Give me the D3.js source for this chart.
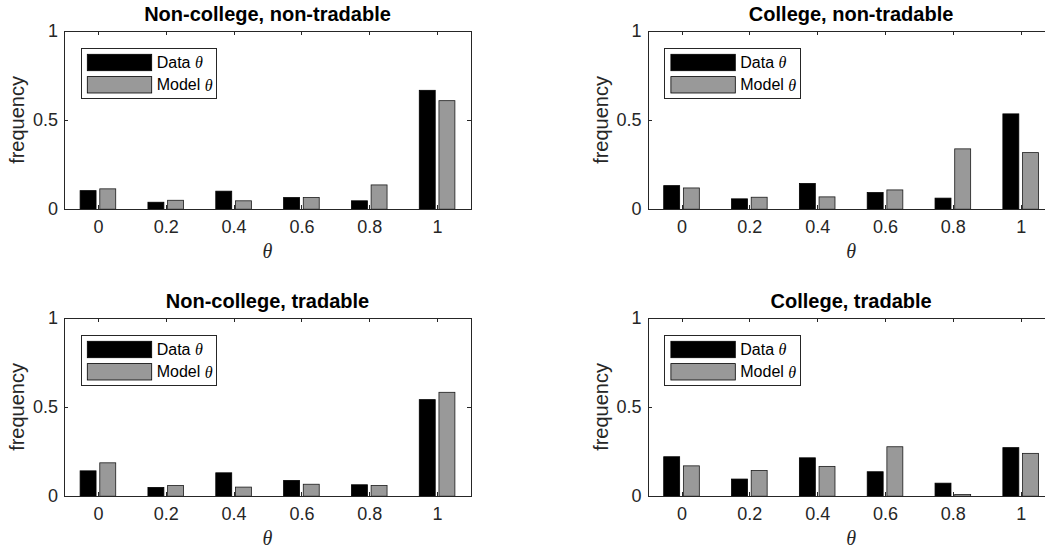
<html>
<style>
    body { margin: 0; background: #fff; }
    svg { display: block; font-family: "Liberation Sans", Arial, sans-serif; }
    .axis path, .axis line { fill: none; stroke: #262626; shape-rendering: crispEdges; }
    .axis text { fill: #262626; font-size: 18px; }
</style>
<body>
<script src="https://d3js.org/d3.v7.min.js"></script>
<script>
// values
const thetas = [0, 0.2, 0.4, 0.6, 0.8, 1];
const xTickLabels = ["0", "0.2", "0.4", "0.6", "0.8", "1"];
const yTicks = [0, 0.5, 1];
const yTickLabels = ["0", "0.5", "1"];
const panelTitles = ["Non-college, non-tradable", "College, non-tradable",
                     "Non-college, tradable", "College, tradable"];
const seriesNames = ["Data", "Model"];

const dataNcNt  = [0.104, 0.039, 0.101, 0.065, 0.047, 0.666];
const modelNcNt = [0.114, 0.050, 0.047, 0.065, 0.136, 0.608];
const dataCNt   = [0.132, 0.058, 0.144, 0.093, 0.062, 0.534];
const modelCNt  = [0.119, 0.067, 0.069, 0.108, 0.338, 0.317];
const dataNcT   = [0.142, 0.049, 0.131, 0.088, 0.064, 0.541];
const modelNcT  = [0.187, 0.060, 0.051, 0.067, 0.060, 0.582];
const dataCT    = [0.221, 0.096, 0.215, 0.137, 0.073, 0.272];
const modelCT   = [0.170, 0.144, 0.167, 0.277, 0.009, 0.240];

const panelData  = [dataNcNt, dataCNt, dataNcT, dataCT];
const panelModel = [modelNcNt, modelCNt, modelNcT, modelCT];

// layout (MATLAB subplot grid, right column runs off the figure)
const W = 1045, H = 555;
const pw = 407, ph = 178.5;
const lefts = [64, 647.6], tops = [30.7, 317.7];
const barW = 0.047, barOff = 0.029;
const fills = ["#000000", "#999999"];

const svg = d3.select("body").append("svg")
    .attr("width", W).attr("height", H)
    .attr("viewBox", [0, 0, W, H]);

const x = d3.scaleLinear().domain([-0.1, 1.1]).range([0, pw]);
const y = d3.scaleLinear().domain([0, 1]).range([ph, 0]);

panelTitles.forEach((title, p) => {
    const g = svg.append("g")
        .attr("transform", `translate(${lefts[p % 2]},${tops[Math.floor(p / 2)]})`);

    g.append("rect").attr("width", pw).attr("height", ph).attr("fill", "#fff");

    // bars
    [panelData[p], panelModel[p]].forEach((vals, s) => {
        g.append("g").selectAll("rect")
            .data(vals)
            .join("rect")
            .attr("x", (d, i) => x(thetas[i] + (s ? barOff : -barOff) - barW / 2))
            .attr("width", x(barW) - x(0))
            .attr("y", d => y(d))
            .attr("height", d => y(0) - y(d))
            .attr("fill", fills[s])
            .attr("stroke", s ? "#1a1a1a" : "#000")
            .attr("stroke-width", 0.8);
    });

    // axes, ticks inward
    g.append("g").attr("class", "axis")
        .attr("transform", `translate(0,${ph})`)
        .call(d3.axisBottom(x).tickValues(thetas).tickSize(-4).tickSizeOuter(0)
            .tickPadding(11).tickFormat((d, i) => xTickLabels[i]));
    g.append("g").attr("class", "axis")
        .call(d3.axisTop(x).tickValues(thetas).tickSize(-4).tickSizeOuter(0).tickFormat(""));
    g.append("g").attr("class", "axis")
        .call(d3.axisLeft(y).tickValues(yTicks).tickSize(-4).tickSizeOuter(0)
            .tickPadding(6).tickFormat((d, i) => yTickLabels[i]));
    g.append("g").attr("class", "axis")
        .attr("transform", `translate(${pw},0)`)
        .call(d3.axisRight(y).tickValues(yTicks).tickSize(-4).tickSizeOuter(0).tickFormat(""));

    // title
    g.append("text")
        .attr("x", pw / 2).attr("y", -9.5)
        .attr("text-anchor", "middle")
        .attr("font-size", 20).attr("font-weight", "bold")
        .attr("fill", "#000")
        .text(title);

    // x label
    g.append("text")
        .attr("x", pw / 2).attr("y", ph + 48.5)
        .attr("text-anchor", "middle")
        .attr("font-size", 20)
        .attr("font-family", "'Liberation Serif', 'DejaVu Serif', serif")
        .attr("font-style", "italic")
        .attr("fill", "#262626")
        .text("θ");

    // y label
    g.append("text")
        .attr("transform", `translate(${-47},${ph / 2}) rotate(-90)`)
        .attr("text-anchor", "middle")
        .attr("dominant-baseline", "central")
        .attr("font-size", 20)
        .attr("fill", "#262626")
        .text("frequency");

    // legend
    const lg = g.append("g").attr("transform", "translate(17,17.6)");
    const box = lg.append("rect")
        .attr("height", 50.4)
        .attr("fill", "#fff").attr("stroke", "#262626").attr("stroke-width", 1)
        .attr("shape-rendering", "crispEdges");
    let maxLen = 0;
    seriesNames.forEach((name, s) => {
        const yy = 6 + s * 22.3;
        lg.append("rect")
            .attr("x", 6.3).attr("y", yy)
            .attr("width", 64.4).attr("height", 16.4)
            .attr("fill", fills[s]).attr("stroke", "#000").attr("stroke-width", 0.8);
        const t = lg.append("text")
            .attr("x", 75.7).attr("y", yy + 8.2)
            .attr("dominant-baseline", "central")
            .attr("font-size", 16).attr("fill", "#000")
            .text(name + " ");
        t.append("tspan")
            .attr("font-family", "'Liberation Serif', 'DejaVu Serif', serif")
            .attr("font-style", "italic")
            .text("θ");
        maxLen = Math.max(maxLen, t.node().getComputedTextLength());
    });
    box.attr("width", 75.7 + maxLen + 4);
});
</script>
</body>
</html>
